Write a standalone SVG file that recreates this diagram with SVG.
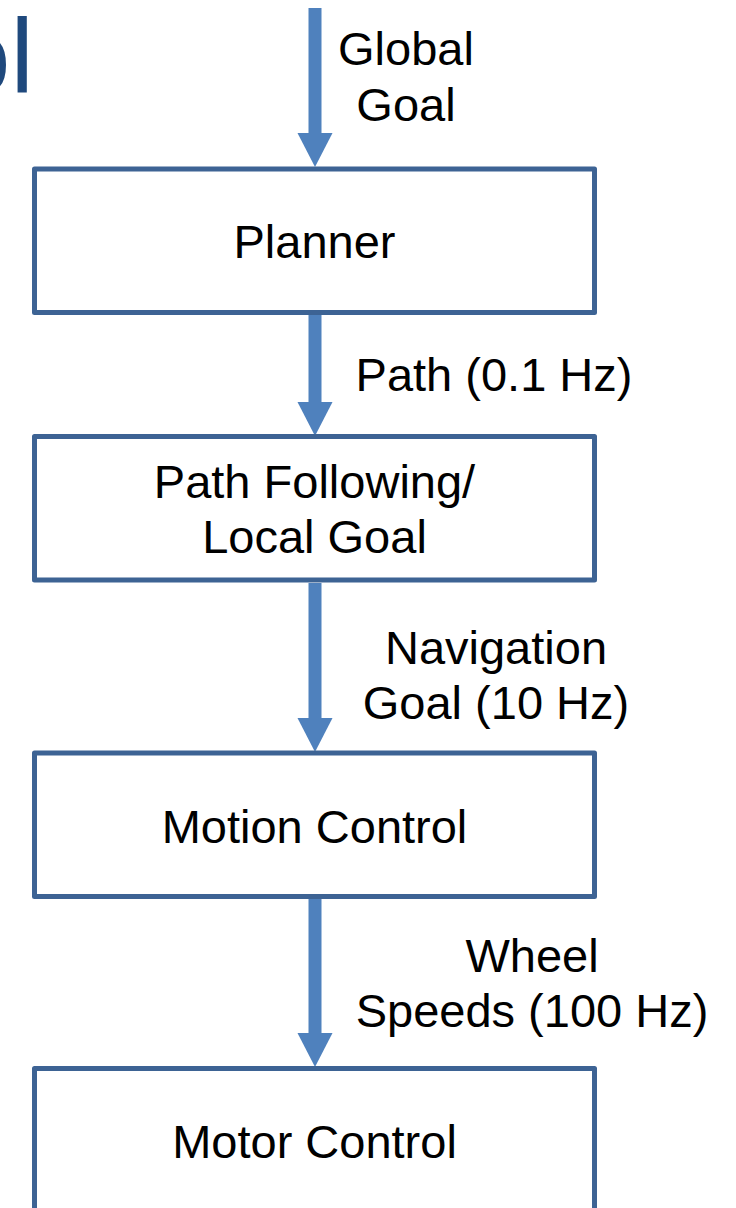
<svg xmlns="http://www.w3.org/2000/svg" width="736" height="1208" viewBox="0 0 736 1208">
  <style>
    .box { fill: #FFFFFF; stroke: #3D6394; stroke-width: 5; stroke-linejoin: round; }
    .lbl { font-family: "Liberation Sans", Arial, sans-serif; font-size: 47px; fill: #000000; text-anchor: middle; }
    .flow { stroke: #4F81BD; stroke-width: 13; fill: none; marker-end: url(#head); }
    .title { font-family: "Liberation Sans", Arial, sans-serif; font-size: 105px; fill: #1F497D; }
  </style>
  <defs>
    <marker id="head" markerUnits="userSpaceOnUse" markerWidth="35" markerHeight="35" refX="0" refY="17.5" orient="auto" overflow="visible">
      <path d="M0,0 L34,17.5 L0,35 Z" fill="#4F81BD"/>
    </marker>
  </defs>
  <rect width="736" height="1208" fill="#FFFFFF"/>

  <!-- slide title, running off the left edge -->
  <text class="title" x="-48" y="93">ol</text>

  <!-- connectors -->
  <g id="connectors">
    <line class="flow" x1="315" y1="8" x2="315" y2="133"/>
    <line class="flow" x1="315" y1="315" x2="315" y2="402"/>
    <line class="flow" x1="315" y1="583" x2="315" y2="718"/>
    <line class="flow" x1="315" y1="898" x2="315" y2="1033"/>
    <text class="lbl" x="406" y="65">Global</text>
    <text class="lbl" x="406" y="121">Goal</text>
    <text class="lbl" x="494" y="391">Path (0.1 Hz)</text>
    <text class="lbl" x="496" y="664">Navigation</text>
    <text class="lbl" x="496" y="719">Goal (10 Hz)</text>
    <text class="lbl" x="532" y="972">Wheel</text>
    <text class="lbl" x="532" y="1027">Speeds (100 Hz)</text>
  </g>

  <g id="planner">
    <rect class="box" x="34.5" y="169" width="560" height="143.5"/>
    <text class="lbl" x="314.5" y="258">Planner</text>
  </g>

  <g id="path-following">
    <rect class="box" x="34.5" y="436.5" width="560" height="143.5"/>
    <text class="lbl" x="314.5" y="498">Path Following/</text>
    <text class="lbl" x="314.5" y="553">Local Goal</text>
  </g>

  <g id="motion-control">
    <rect class="box" x="34.5" y="753" width="560" height="143.5"/>
    <text class="lbl" x="314.5" y="843">Motion Control</text>
  </g>

  <g id="motor-control">
    <rect class="box" x="34.5" y="1068.5" width="560" height="160"/>
    <text class="lbl" x="314.5" y="1158">Motor Control</text>
  </g>
</svg>
